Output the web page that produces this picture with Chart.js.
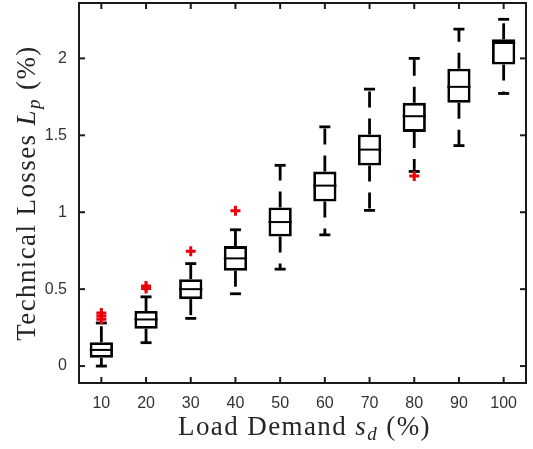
<!DOCTYPE html>
<html>
<head>
<meta charset="utf-8">
<script src="https://cdn.jsdelivr.net/npm/chart.js@4"></script>
<style>
  html, body { margin: 0; padding: 0; background: #fff; }
  #wrap { width: 533px; height: 449px; }
</style>
</head>
<body>
<div id="wrap"><canvas id="lossChart"></canvas></div>
<script>
const categories = ['10', '20', '30', '40', '50', '60', '70', '80', '90', '100'];
const yTicks = [0, 0.5, 1, 1.5, 2];

// box statistics per load level
const q1 = [0.054, 0.243, 0.435, 0.62, 0.842, 1.07, 1.303, 1.522, 1.711, 1.96];
const q3 = [0.155, 0.358, 0.565, 0.78, 1.031, 1.264, 1.505, 1.711, 1.933, 2.124];
const medians = [0.105, 0.303, 0.50, 0.70, 0.936, 1.173, 1.407, 1.624, 1.815, 2.10];
const whiskerLow = [0.0, 0.152, 0.31, 0.47, 0.63, 0.853, 1.012, 1.265, 1.433, 1.772];
const whiskerHigh = [0.28, 0.45, 0.666, 0.886, 1.305, 1.555, 1.80, 2.0, 2.19, 2.254];
const outliers = [[0.305, 0.325, 0.345], [0.505, 0.52], [0.747], [1.01], [], [], [], [1.235], [], []];

const boxes = categories.map((c, i) => [q1[i], q3[i]]);
const outlierPoints = [];
outliers.forEach((vals, i) => vals.forEach(v => outlierPoints.push({ x: categories[i], y: v })));

function seg(ctx, x1, y1, x2, y2) {
  ctx.beginPath();
  ctx.moveTo(x1, y1);
  ctx.lineTo(x2, y2);
  ctx.stroke();
}

// whiskers + caps go under the boxes, medians on top
const boxParts = {
  id: 'boxParts',
  beforeDatasetsDraw(chart) {
    const { ctx, scales: { x, y } } = chart;
    ctx.save();
    ctx.strokeStyle = '#000';
    categories.forEach((c, i) => {
      const cx = x.getPixelForValue(i);
      const hi = y.getPixelForValue(whiskerHigh[i]);
      const lo = y.getPixelForValue(whiskerLow[i]);
      ctx.lineWidth = 2.8;
      ctx.setLineDash([16, 11]);
      seg(ctx, cx, y.getPixelForValue(q3[i]), cx, hi);
      seg(ctx, cx, y.getPixelForValue(q1[i]), cx, lo);
      ctx.setLineDash([]);
      seg(ctx, cx - 5.5, hi, cx + 5.5, hi);
      seg(ctx, cx - 5.5, lo, cx + 5.5, lo);
    });
    ctx.restore();
  },
  afterDatasetsDraw(chart) {
    const { ctx, scales: { x, y } } = chart;
    const meta = chart.getDatasetMeta(0);
    ctx.save();
    ctx.strokeStyle = '#000';
    ctx.lineWidth = 2;
    categories.forEach((c, i) => {
      const cx = x.getPixelForValue(i);
      const half = meta.data[i].width / 2;
      const my = y.getPixelForValue(medians[i]);
      seg(ctx, cx - half, my, cx + half, my);
    });
    ctx.restore();
  }
};

function drawPieces(ctx, pieces, cx, baseY) {
  let total = 0;
  pieces.forEach(p => { ctx.font = p.font; total += ctx.measureText(p.t).width; });
  let px = cx - total / 2;
  pieces.forEach(p => {
    ctx.font = p.font;
    ctx.fillText(p.t, px, baseY + (p.dy || 0));
    px += ctx.measureText(p.t).width;
  });
}

const serif = '"Liberation Serif", serif';
const big = '27px ' + serif;
const bigIt = 'italic 27px ' + serif;
const small = 'italic 19px ' + serif;

// box frame, inward ticks on all four sides, axis titles
const frame = {
  id: 'frame',
  afterDraw(chart) {
    const { ctx, chartArea: a, scales: { x, y } } = chart;
    ctx.save();
    ctx.strokeStyle = '#1a1a1a';
    ctx.lineWidth = 2;
    ctx.strokeRect(a.left, a.top, a.right - a.left, a.bottom - a.top);
    categories.forEach((c, i) => {
      const px = x.getPixelForValue(i);
      seg(ctx, px, a.bottom, px, a.bottom - 6);
      seg(ctx, px, a.top, px, a.top + 6);
    });
    yTicks.forEach(v => {
      const py = y.getPixelForValue(v);
      seg(ctx, a.left, py, a.left + 6, py);
      seg(ctx, a.right, py, a.right - 6, py);
    });

    ctx.fillStyle = '#262626';
    ctx.textBaseline = 'alphabetic';
    ctx.letterSpacing = '1.4px';
    drawPieces(ctx, [
      { t: 'Load Demand ', font: big },
      { t: 's', font: bigIt },
      { t: 'd', font: small, dy: 5 },
      { t: ' (%)', font: big }
    ], (a.left + a.right) / 2 + 2, 435);

    ctx.translate(35, (a.top + a.bottom) / 2);
    ctx.rotate(-Math.PI / 2);
    drawPieces(ctx, [
      { t: 'Technical Losses ', font: big },
      { t: 'L', font: bigIt },
      { t: 'p', font: small, dy: 5 },
      { t: ' (%)', font: big }
    ], 0, 0);
    ctx.restore();
  }
};

new Chart(document.getElementById('lossChart'), {
  type: 'bar',
  data: {
    labels: categories,
    datasets: [{
      data: boxes,
      backgroundColor: '#fff',
      borderColor: '#000',
      borderWidth: 2.8,
      borderSkipped: false,
      barPercentage: 0.52,
      categoryPercentage: 1
    }, {
      type: 'line',
      data: outlierPoints,
      showLine: false,
      pointStyle: 'cross',
      pointRadius: 5,
      borderColor: '#e8000b',
      borderWidth: 3
    }]
  },
  options: {
    responsive: true,
    maintainAspectRatio: false,
    animation: false,
    layout: { autoPadding: false, padding: { left: 0, right: 7, top: 3, bottom: 0 } },
    plugins: { legend: { display: false }, tooltip: { enabled: false } },
    scales: {
      x: {
        grid: { display: false },
        border: { display: false },
        ticks: { padding: 3, color: '#333', font: { family: '"Liberation Sans", Arial', size: 16 } },
        afterFit: s => { s.height = 66; s.paddingLeft = 0; s.paddingRight = 0; }
      },
      y: {
        min: -0.11,
        max: 2.36,
        grid: { display: false },
        border: { display: false },
        afterBuildTicks: s => { s.ticks = yTicks.map(v => ({ value: v })); },
        ticks: {
          padding: 4,
          color: '#333',
          font: { family: '"Liberation Sans", Arial', size: 16 },
          callback: v => String(v)
        },
        afterFit: s => { s.width = 79; s.paddingTop = 0; s.paddingBottom = 0; }
      }
    }
  },
  plugins: [boxParts, frame]
});
</script>
</body>
</html>
